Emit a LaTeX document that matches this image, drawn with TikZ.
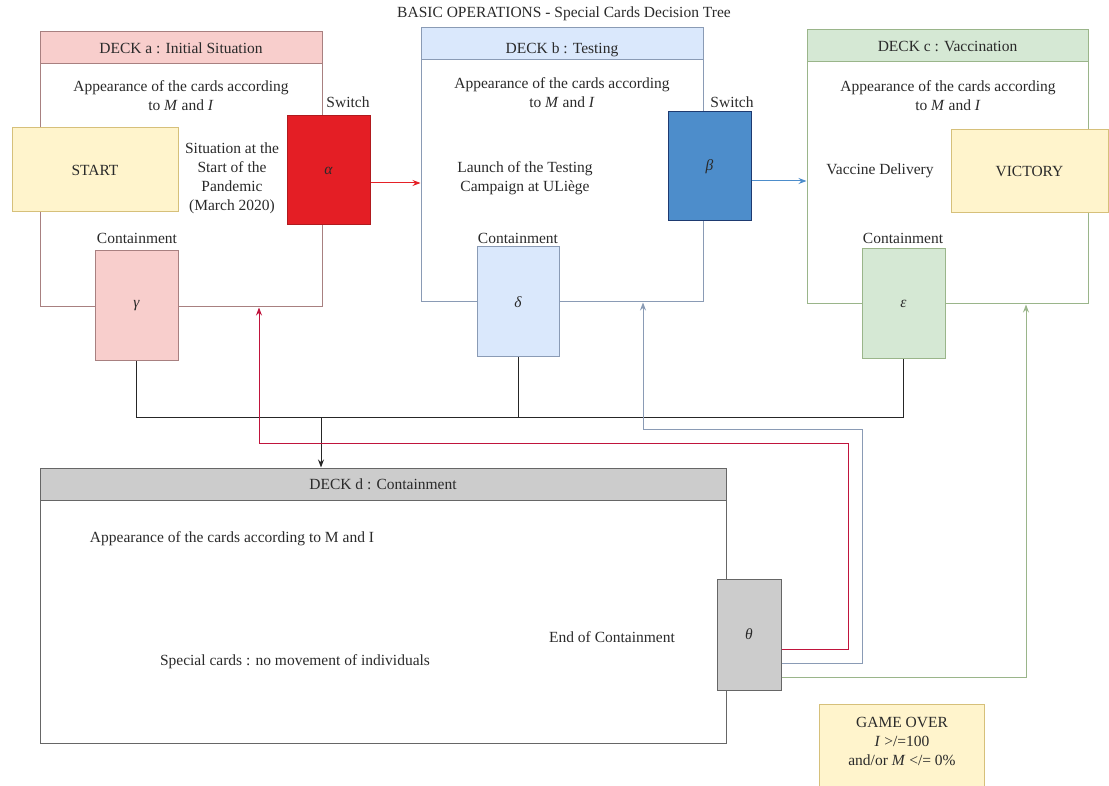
\documentclass[tikz,border=0pt]{standalone}
\usepackage{fontspec}
\setmainfont{Liberation Serif}
\usetikzlibrary{arrows.meta}
\definecolor{pinkF}{HTML}{F8CECC}
\definecolor{pinkD}{HTML}{A88080}
\definecolor{blueF}{HTML}{DAE8FC}
\definecolor{blueD}{HTML}{8A9BB5}
\definecolor{greenF}{HTML}{D5E8D4}
\definecolor{greenD}{HTML}{9AB58A}
\definecolor{greyF}{HTML}{CCCCCC}
\definecolor{greyD}{HTML}{666666}
\definecolor{yelF}{HTML}{FFF4CC}
\definecolor{yelD}{HTML}{D6C07A}
\definecolor{alphaF}{HTML}{E41E25}
\definecolor{alphaD}{HTML}{B01A1E}
\definecolor{betaF}{HTML}{4D8DCB}
\definecolor{betaD}{HTML}{1E3A70}
\definecolor{redL}{HTML}{C0143C}
\definecolor{brightR}{HTML}{E52127}
\definecolor{betaL}{HTML}{4D8DCB}
\definecolor{textC}{HTML}{2A2A2A}
\begin{document}
\begin{tikzpicture}[x=1pt,y=-1pt,
  font=\fontsize{15.5}{19}\selectfont,
  every node/.style={text=textC},
  box/.style={draw,line width=1pt,inner sep=0pt},
  lbl/.style={align=center,inner sep=0pt},
  tip/.style={-{Stealth[length=8pt,width=6pt]}},
  conn/.style={line width=1pt},
  blk/.style={conn,draw=black!85}]
\path[use as bounding box] (0,0) rectangle (1109,786);

\node[lbl] (title) at (564,14) {BASIC OPERATIONS - Special Cards Decision Tree};

% Deck a
\node[box, draw=pinkD, minimum width=282pt, minimum height=275pt] (da) at (181,169.5) {};
\node[box, draw=pinkD, fill=pinkF, minimum width=282pt, minimum height=32pt] (dah) at (181,48) {DECK a : Initial Situation};
\node[lbl] (aapp) at (181,95.5) {Appearance of the cards according\\to \textit{M} and \textit{I}};
\node[box, draw=yelD, fill=yelF, minimum width=166pt, minimum height=84pt] (start) at (95,170) {START};
\node[lbl] (asit) at (232,178) {Situation at the\\Start of the\\Pandemic\\(March 2020)};
\node[lbl] (asw) at (348,102) {Switch};
\node[box, draw=alphaD, fill=alphaF, minimum width=83pt, minimum height=109pt] (al) at (328.5,170.5) {\textit{α}};
\node[lbl] (acont) at (137,238) {Containment};
\node[box, draw=pinkD, fill=pinkF, minimum width=83pt, minimum height=110pt] (ga) at (136.5,306) {\textit{γ}};

% Deck b
\node[box, draw=blueD, minimum width=282pt, minimum height=274pt] (db) at (562,165) {};
\node[box, draw=blueD, fill=blueF, minimum width=282pt, minimum height=32pt] (dbh) at (562,44) {};
\node[lbl] (dbt) at (562,50) {DECK b : Testing};
\node[lbl] (bapp) at (562,92.5) {Appearance of the cards according\\to \textit{M} and \textit{I}};
\node[lbl] (blaunch) at (525,178) {Launch of the Testing\\Campaign at ULiège};
\node[lbl] (bsw) at (732,102) {Switch};
\node[box, draw=betaD, fill=betaF, minimum width=83pt, minimum height=109pt] (be) at (709.5,166.5) {\textit{β}};
\node[lbl] (bcont) at (518,238) {Containment};
\node[box, draw=blueD, fill=blueF, minimum width=82pt, minimum height=110pt] (de) at (518,302) {\textit{δ}};

% Deck c
\node[box, draw=greenD, minimum width=281pt, minimum height=274pt] (dc) at (947.5,167) {};
\node[box, draw=greenD, fill=greenF, minimum width=281pt, minimum height=32pt] (dch) at (947.5,46) {DECK c : Vaccination};
\node[lbl] (capp) at (948,95.5) {Appearance of the cards according\\to \textit{M} and \textit{I}};
\node[lbl] (cvac) at (880,171) {Vaccine Delivery};
\node[box, draw=yelD, fill=yelF, minimum width=157pt, minimum height=83pt] (vic) at (1029.5,171.5) {VICTORY};
\node[lbl] (ccont) at (903,238) {Containment};
\node[box, draw=greenD, fill=greenF, minimum width=83pt, minimum height=110pt] (ep) at (903.5,304) {\textit{ε}};

% Deck d
\node[box, draw=greyD, minimum width=686pt, minimum height=275pt] (dd) at (383,605.5) {};
\node[box, draw=greyD, fill=greyF, minimum width=686pt, minimum height=32pt] (ddh) at (383,484) {DECK d : Containment};
\node[lbl] (dapp) at (232,539) {Appearance of the cards according to M and I};
\node[lbl] (dspec) at (295,662) {Special cards : no movement of individuals};
\node[lbl] (dend) at (612,637) {End of Containment};
\node[box, draw=greyD, fill=greyF, minimum width=64pt, minimum height=111pt] (th) at (749,634.5) {\textit{θ}};

% Game over
\node[box, draw=yelD, fill=yelF, minimum width=165pt, minimum height=86pt] (go) at (901.5,747) {};
\node[lbl] (got) at (902,741) {GAME OVER\\\textit{I} >/=100\\and/or \textit{M} </= 0\%};

% switch arrows
\coordinate (aout) at ([yshift=-12.5pt]al.east);
\draw[conn, brightR, tip] (aout) -- (aout -| db.west);
\coordinate (bout) at ([yshift=-14.5pt]be.east);
\draw[conn, betaL, tip] (bout) -- (bout -| dc.west);

% containment bus
\coordinate (bus) at (0,417);
\coordinate (busarrow) at (321,417);
\draw[blk] (ga.south) -- (ga.south |- bus) -- (ep.south |- bus) -- (ep.south);
\draw[blk] (de.south) -- (de.south |- bus);
\draw[blk, tip] (busarrow) -- (busarrow |- ddh.north);

% returns from theta
\coordinate (rbend) at (848,443);
\coordinate (bbend) at (862,429);
\draw[conn, redL, tip] ([yshift=-14.5pt]th.east) -| (rbend) -| ([xshift=78pt]da.south);
\draw[conn, blueD, tip] ([yshift=-28.5pt]th.east) -| (bbend) -| ([xshift=81pt]db.south);
\draw[conn, greenD, tip] ([yshift=-42.5pt]th.east) -| ([xshift=78.5pt]dc.south);
\end{tikzpicture}
\end{document}
